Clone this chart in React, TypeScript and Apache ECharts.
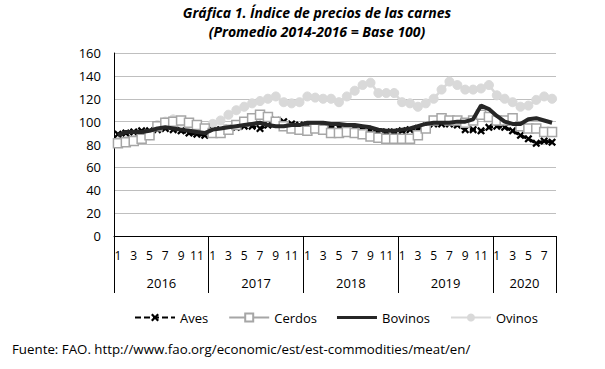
import React, { useEffect, useRef } from "react";
import * as echarts from "echarts";

const years = ["2016", "2017", "2018", "2019", "2020"];
const monthsPerYear = [12, 12, 12, 12, 8];
const monthNames = ["1", "2", "3", "4", "5", "6", "7", "8", "9", "10", "11", "12"];

const aves = [
  89, 90, 91, 92, 92, 93, 94, 93, 92, 90, 89, 88,
  92, 93, 94, 95, 96, 96, 94, 97, 101, 100, 98, 97,
  97, 97, 97, 96, 95, 94, 94, 93, 92, 91, 91, 91,
  92, 93, 94, 96, 98, 98, 98, 97, 93, 93, 92, 95,
  96, 95, 92, 88, 85, 81, 83, 82,
];
const cerdos = [
  81, 82, 83, 85, 88, 96, 99, 100, 101, 99, 97, 94,
  90, 90, 93, 97, 100, 103, 106, 104, 100, 96, 94, 93,
  92, 94, 93, 90, 90, 91, 90, 89, 87, 86, 85, 85,
  85, 85, 88, 94, 101, 103, 101, 101, 99, 101, 106, 104,
  101, 101, 103, 96, 94, 94, 91, 91,
];
const bovinos = [
  88, 91, 91, 91, 92, 94, 95, 94, 93, 92, 91, 90,
  93, 94, 95, 96, 97, 98, 99, 97, 96, 96, 97, 97,
  99, 99, 99, 98, 98, 97, 97, 96, 95, 93, 92, 92,
  93, 94, 96, 98, 99, 99, 99, 100, 100, 102, 114, 111,
  105, 100, 98, 98, 102, 103, 101, 99,
];
const ovinos = [
  82, 83, 84, 86, 88, 97, 100, 102, 100, 98, 93, 91,
  98, 101, 106, 110, 113, 116, 118, 120, 122, 117, 116, 117,
  122, 121, 120, 120, 117, 122, 127, 132, 134, 125, 125, 125,
  117, 116, 113, 116, 120, 128, 135, 132, 128, 128, 129, 132,
  123, 120, 117, 113, 114, 119, 122, 120,
];

const titleText = "Gráfica 1. Índice de precios de las carnes\n(Promedio 2014-2016 = Base 100)";
const sourceText = "Fuente: FAO. http://www.fao.org/economic/est/est-commodities/meat/en/";

const FONT = "'Open Sans', 'Noto Sans', sans-serif";

export default function App() {
  const ref = useRef<HTMLDivElement>(null);
  useEffect(() => {
    if (!ref.current) return;
    const chart = echarts.init(ref.current, undefined, { renderer: "svg" });

    const monthCats: string[] = [];
    const yearCats: string[] = [];
    const yearStarts: number[] = [];
    const yearLabelIdx: Record<number, string> = {};
    let idx = 0;
    years.forEach((y, yi) => {
      const n = monthsPerYear[yi];
      yearStarts.push(idx);
      yearLabelIdx[idx + Math.floor(n / 2) - 1] = y;
      for (let m = 0; m < n; m++) {
        monthCats.push(monthNames[m]);
        yearCats.push(y + "-" + monthNames[m]);
      }
      idx += n;
    });

    const xSym = "path://M2,0L5,3L8,0L10,2L7,5L10,8L8,10L5,7L2,10L0,8L3,5L0,2Z";
    const barIcon = "path://M0,0M0,3.5L40,3.5L40,6.5L0,6.5ZM40,10";
    const legendText = { fontSize: 13, color: "#000", fontFamily: FONT };

    chart.setOption({
      animation: false,
      textStyle: { fontFamily: FONT },
      grid: { left: 114, right: 49, top: 53, bottom: 133, containLabel: false },
      legend: {
        bottom: 40,
        left: 129,
        itemWidth: 40,
        itemHeight: 10,
        itemGap: 20,
        textStyle: legendText,
        data: [
          { name: "Aves", textStyle: legendText },
          { name: "Cerdos", textStyle: legendText },
          { name: "Bovinos", icon: barIcon, itemStyle: { color: "#262626" }, textStyle: legendText },
          { name: "Ovinos", textStyle: legendText },
        ],
      },
      xAxis: [
        {
          type: "category",
          data: monthCats,
          boundaryGap: true,
          axisLine: { show: true, lineStyle: { color: "#000", width: 1 } },
          axisTick: { show: false },
          axisLabel: { interval: 1, fontSize: 12, color: "#000", margin: 13, fontFamily: FONT },
        },
        {
          type: "category",
          data: yearCats,
          position: "bottom",
          boundaryGap: true,
          axisLine: { show: false },
          axisTick: {
            show: true,
            length: 57,
            lineStyle: { color: "#000", width: 1 },
            interval: (i: number) => yearStarts.indexOf(i) >= 0,
          },
          axisLabel: {
            interval: 0,
            margin: 40,
            fontSize: 13,
            color: "#000",
            fontFamily: FONT,
            formatter: (_v: string, i: number) => yearLabelIdx[i] || "",
            padding: [0, 0, 0, 8],
          },
        },
      ],
      yAxis: {
        type: "value",
        min: 0,
        max: 160,
        interval: 20,
        axisLine: { show: true, lineStyle: { color: "#000", width: 1 } },
        axisTick: { show: false },
        splitLine: { show: true, lineStyle: { color: "#bfbfbf", width: 1 } },
        axisLabel: { fontSize: 13, color: "#000", margin: 13, fontFamily: FONT },
      },
      series: [
        {
          name: "Aves",
          type: "line",
          data: aves,
          symbol: xSym,
          symbolSize: 8,
          showAllSymbol: true,
          itemStyle: { color: "#000" },
          lineStyle: { color: "#000", width: 3, type: [6, 3] },
          z: 2,
        },
        {
          name: "Cerdos",
          type: "line",
          data: cerdos,
          symbol: "rect",
          symbolSize: 9,
          showAllSymbol: true,
          itemStyle: { color: "#fff", borderColor: "#a6a6a6", borderWidth: 1.5 },
          lineStyle: { color: "#a6a6a6", width: 2.5 },
          z: 3,
        },
        {
          name: "Bovinos",
          type: "line",
          data: bovinos,
          symbol: "none",
          itemStyle: { color: "#262626" },
          lineStyle: { color: "#262626", width: 4 },
          z: 4,
        },
        {
          name: "Ovinos",
          type: "line",
          data: ovinos,
          symbol: "circle",
          symbolSize: 9,
          showAllSymbol: true,
          itemStyle: { color: "#d9d9d9", borderColor: "#d9d9d9" },
          lineStyle: { color: "#d9d9d9", width: 2.5 },
          z: 1,
        },
      ],
      graphic: [
        {
          type: "text",
          x: 317,
          y: 3,
          style: {
            text: titleText,
            textAlign: "center",
            fontFamily: FONT,
            fontSize: 14,
            fontWeight: "bold",
            fontStyle: "italic",
            lineHeight: 19,
            fill: "#000",
          },
        },
        {
          type: "text",
          x: 12,
          y: 342,
          style: {
            text: sourceText,
            fontFamily: FONT,
            fontSize: 13.3,
            fill: "#000",
          },
        },
      ],
    });
    return () => chart.dispose();
  }, []);
  return (
    <div
      ref={ref}
      style={{ position: "fixed", left: 0, top: 0, width: 605, height: 369, background: "#fff" }}
    />
  );
}
